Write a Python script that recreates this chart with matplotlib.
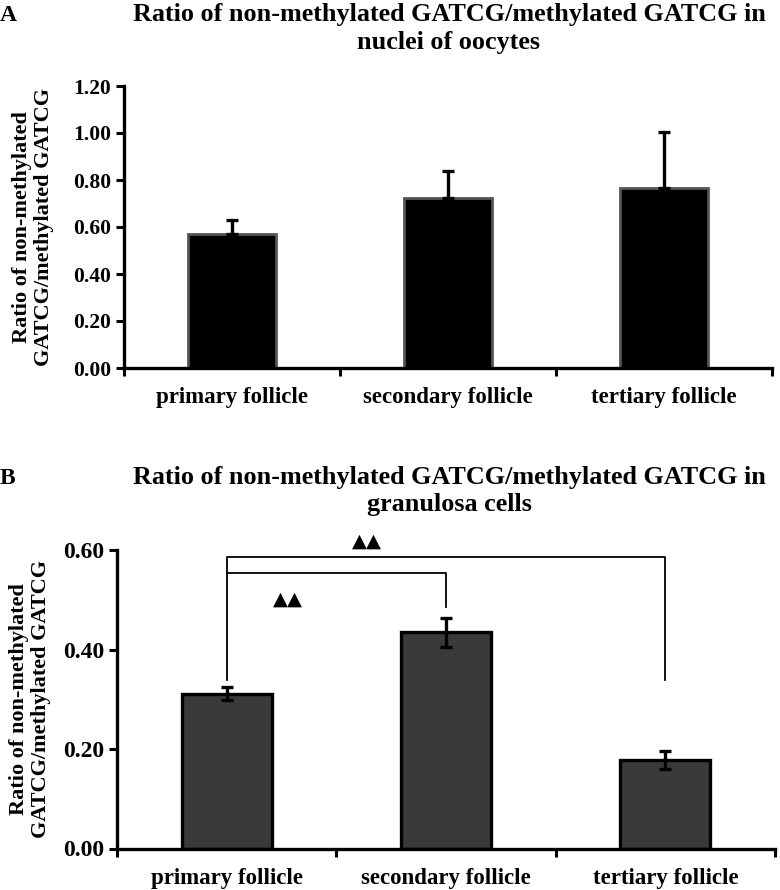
import matplotlib
matplotlib.use("Agg")
import matplotlib.pyplot as plt

plt.rcParams['font.family'] = ['Liberation Serif', 'DejaVu Serif']
plt.rcParams['font.weight'] = 'bold'

categories = ['primary follicle', 'secondary follicle', 'tertiary follicle']

# panel A: nuclei of oocytes
oocyte_mean = [0.570, 0.723, 0.766]
oocyte_err = [0.060, 0.115, 0.238]

# panel B: granulosa cells
granulosa_mean = [0.311, 0.435, 0.178]
granulosa_err = [0.013, 0.029, 0.018]

ylabel = 'Ratio of non-methylated\nGATCG/methylated GATCG'
title_a = 'Ratio of non-methylated GATCG/methylated GATCG in\nnuclei of oocytes'
title_b = 'Ratio of non-methylated GATCG/methylated GATCG in\ngranulosa cells'

fig = plt.figure(figsize=(7.8, 8.9), dpi=100)
W, H = 780, 890


def px_axes(left, top, right, bottom):
    return fig.add_axes([left / W, 1 - bottom / H, (right - left) / W, (bottom - top) / H])


def style_axes(ax, ymax, step, tick_size, label_pad):
    n = int(round(ymax / step)) + 1
    ax.set_xlim(-0.5, len(categories) - 0.5)
    ax.set_ylim(0, ymax)
    ax.set_yticks([i * step for i in range(n)])
    ax.set_yticklabels([f'{i * step:.2f}' for i in range(n)])
    ax.set_xticks(list(range(len(categories))))
    ax.set_xticklabels(categories, fontsize=16.5, fontweight='bold')
    ax.set_xticks([i - 0.5 for i in range(len(categories) + 1)], minor=True)
    ax.tick_params(axis='x', which='major', length=0, pad=14)
    ax.tick_params(axis='x', which='minor', length=6, width=2.2, direction='out')
    ax.tick_params(axis='y', length=6, width=2.2, labelsize=tick_size, pad=3)
    for lab in ax.get_yticklabels():
        lab.set_fontweight('bold')
    for s in ['top', 'right']:
        ax.spines[s].set_visible(False)
    for s in ['left', 'bottom']:
        ax.spines[s].set_linewidth(2.4)
    ax.set_ylabel(ylabel, fontsize=16, fontweight='bold', labelpad=label_pad, linespacing=1.1)


# ---- panel A
axA = px_axes(124, 86, 772, 368)
xs = list(range(len(categories)))
axA.bar(xs, oocyte_mean, width=0.41, color='black', edgecolor='#555555', linewidth=2)
axA.errorbar(xs, oocyte_mean, yerr=[[0] * 3, oocyte_err], fmt='none', ecolor='black',
             elinewidth=2.4, capsize=4, capthick=2.4)
style_axes(axA, 1.2, 0.2, 15.5, 14)
fig.text(449 / W, 1 - 3 / H, title_a, ha='center', va='top', fontsize=18.8, fontweight='bold',
         linespacing=1.25)
fig.text(0 / W, 1 - 5 / H, 'A', ha='left', va='top', fontsize=17, fontweight='bold')

# ---- panel B
axB = px_axes(117, 550, 775, 848.5)
axB.bar(xs, granulosa_mean, width=0.41, color='#3a3a3a', edgecolor='black', linewidth=2.4)
axB.errorbar(xs, granulosa_mean, yerr=granulosa_err, fmt='none', ecolor='black',
             elinewidth=2.4, capsize=4, capthick=2.4)
style_axes(axB, 0.6, 0.2, 17, 9)
fig.text(449 / W, 1 - 466 / H, title_b, ha='center', va='top', fontsize=18.8, fontweight='bold',
         linespacing=1.25)
fig.text(0 / W, 1 - 468 / H, 'B', ha='left', va='top', fontsize=17, fontweight='bold')

# significance brackets
axB.plot([0, 0, 2, 2], [0.339, 0.586, 0.586, 0.339], color='black', lw=1.3, clip_on=False)
axB.plot([0, 1, 1], [0.554, 0.554, 0.486], color='black', lw=1.3, clip_on=False)
axB.text(0.64, 0.617, '▲▲', ha='center', va='center', fontsize=14, family='DejaVu Sans',
         clip_on=False)
axB.text(0.28, 0.502, '▲▲', ha='center', va='center', fontsize=14, family='DejaVu Sans')

fig.savefig('out.png', dpi=100)
